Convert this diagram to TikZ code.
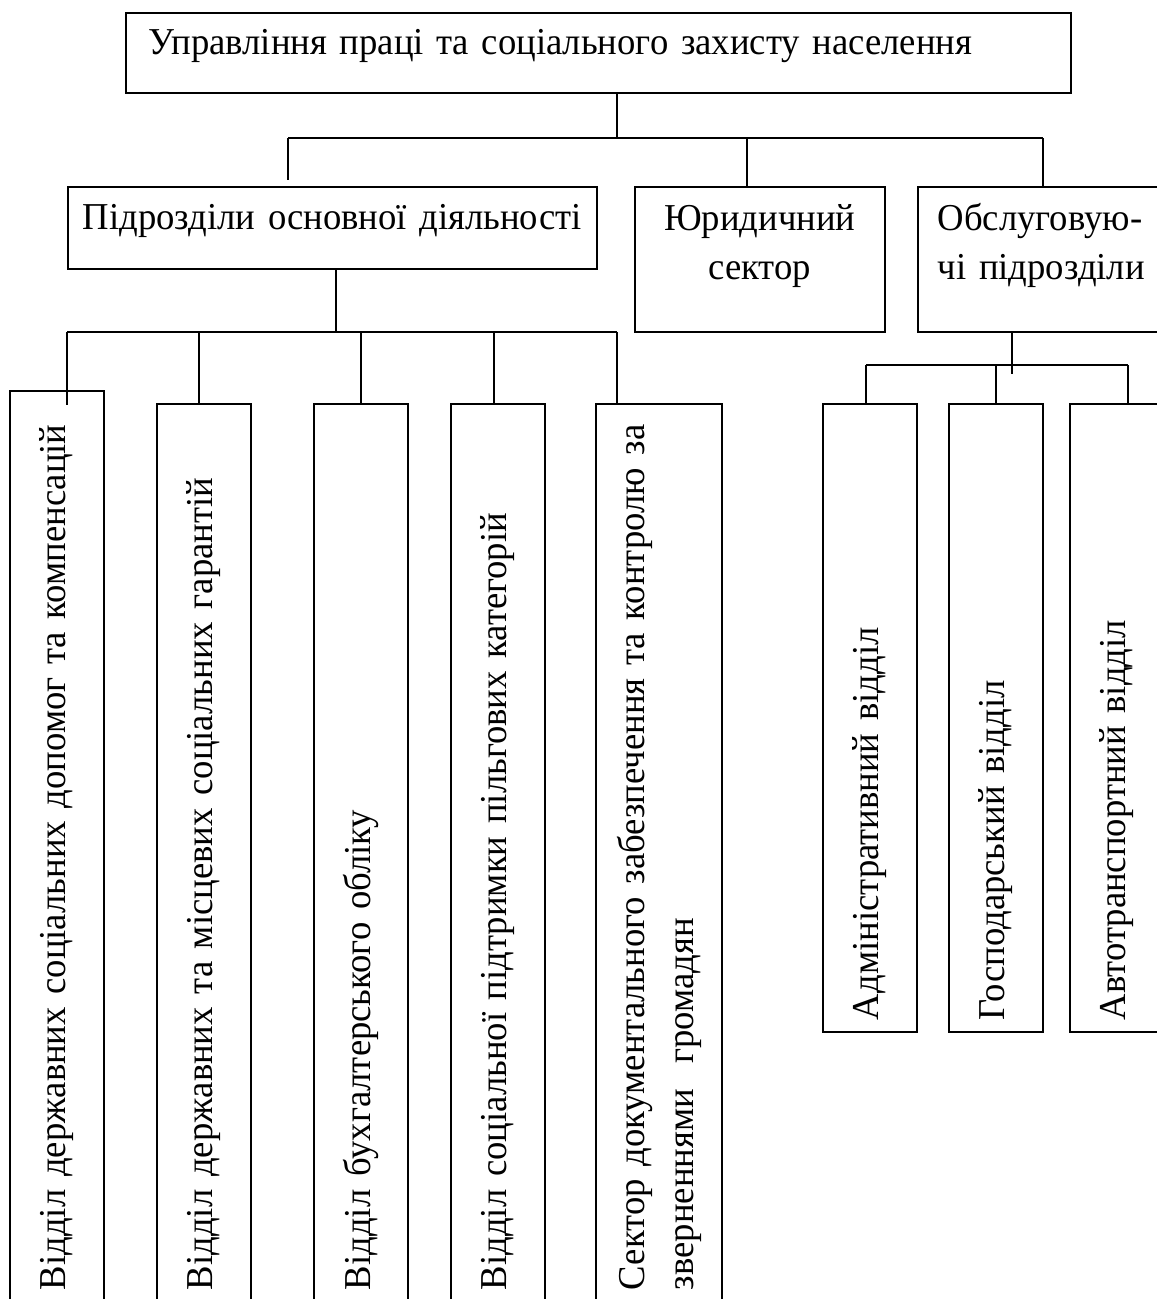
\documentclass[tikz,border=0pt]{standalone}
\usepackage{fontspec}
\setmainfont[FakeStretch=0.965]{Liberation Serif}
\usepackage{tikz}
\usetikzlibrary{positioning}

\begin{document}
\begin{tikzpicture}[
        x=1pt, y=-1pt,
        font={\fontsize{38}{49}\selectfont\spaceskip=4pt plus 1pt minus 1pt},
        box/.style={rectangle, draw, line width=1.5pt, inner sep=0pt},
        vbox/.style={box, rotate=90, align=left, minimum height=94, inner xsep=20},
        line/.style={line width=1.5pt}
    ]
    \useasboundingbox (0,0) rectangle (1157,1299);

    % top level
    \node (main) [box, anchor=north west, inner xsep=23, text width=899, align=left,
        text height=42, text depth=38] at (125,12)
        {Управління праці та соціального захисту населення};

    \node (sub) [box, anchor=north west, text width=529, align=center,
        text height=43, text depth=39] at (67,186) {Підрозділи основної діяльності};
    \node (jur) [box, anchor=north west, inner xsep=8, text width=234, align=center,
        text height=44, text depth=101] at (634,186) {Юридичний\\сектор};
    \node (serv) [box, anchor=north west, inner xsep=20, text width=243, align=left,
        text height=44, text depth=101] at (917,186) {Обслуговую-\\чі підрозділи};

    % main departments
    \node (dep1) [vbox, text width=879] at (57,850.5)
        {\mbox{Відділ державних соціальних допомог та компенсацій}};
    \node (dep2) [vbox, text width=866] at (204,857)
        {\mbox{Відділ державних та місцевих соціальних гарантій}};
    \node (dep3) [vbox, text width=866] at (361,857)
        {Відділ бухгалтерського обліку};
    \node (dep4) [vbox, text width=866] at (498,857)
        {\mbox{Відділ соціальної підтримки пільгових категорій}};
    \node (dep5) [vbox, text width=866, minimum height=126] at (659,857)
        {\mbox{Сектор документального забезпечення та контролю за}\\зверненнями~~громадян};

    % service departments
    \node (srv1) [vbox, inner xsep=12, text width=604] at (870,718) {Адміністративний відділ};
    \node (srv2) [vbox, inner xsep=12, text width=604] at (996,718) {Господарський відділ};
    \node (srv3) [vbox, inner xsep=12, text width=604] at (1117,718) {Автотранспортний відділ};

    % bus coordinates
    \coordinate (hub) at (617,138);
    \coordinate (hubL) at (288,138);
    \coordinate (hubJ) at (747,138);
    \coordinate (hubR) at (1043,138);
    \coordinate (hubS) at (336,332);
    \coordinate (hubSL) at (67,332);
    \coordinate (hubSR) at (617,332);
    \coordinate (hubO) at (1012,365);
    \coordinate (hubOL) at (866,365);
    \coordinate (hubOR) at (1128,365);

    \draw [line] (main.south -| hub) -- (hub);
    \draw [line] (hubL) -- (hubR);
    \draw [line] (hubL) -- ++(0,42);
    \draw [line] (hubJ) -- (hubJ |- jur.north);
    \draw [line] (hubR) -- (hubR |- serv.north);

    \draw [line] (sub.south -| hubS) -- (hubS);
    \draw [line] (hubSL) -- (hubSR);
    \draw [line] (hubSL) -- ++(0,73);
    \draw [line] (dep2.east -| 199,0) -- (199,332);
    \draw [line] (dep3.east -| 361,0) -- (361,332);
    \draw [line] (dep4.east -| 494,0) -- (494,332);
    \draw [line] (dep5.east -| hubSR) -- (hubSR);

    \draw [line] (serv.south -| hubO) -- ++(0,41);
    \draw [line] (hubOL) -- (hubOR);
    \draw [line] (srv1.east -| hubOL) -- (hubOL);
    \draw [line] (srv2.east -| 996,0) -- (996,365);
    \draw [line] (srv3.east -| hubOR) -- (hubOR);

\end{tikzpicture}
\end{document}
